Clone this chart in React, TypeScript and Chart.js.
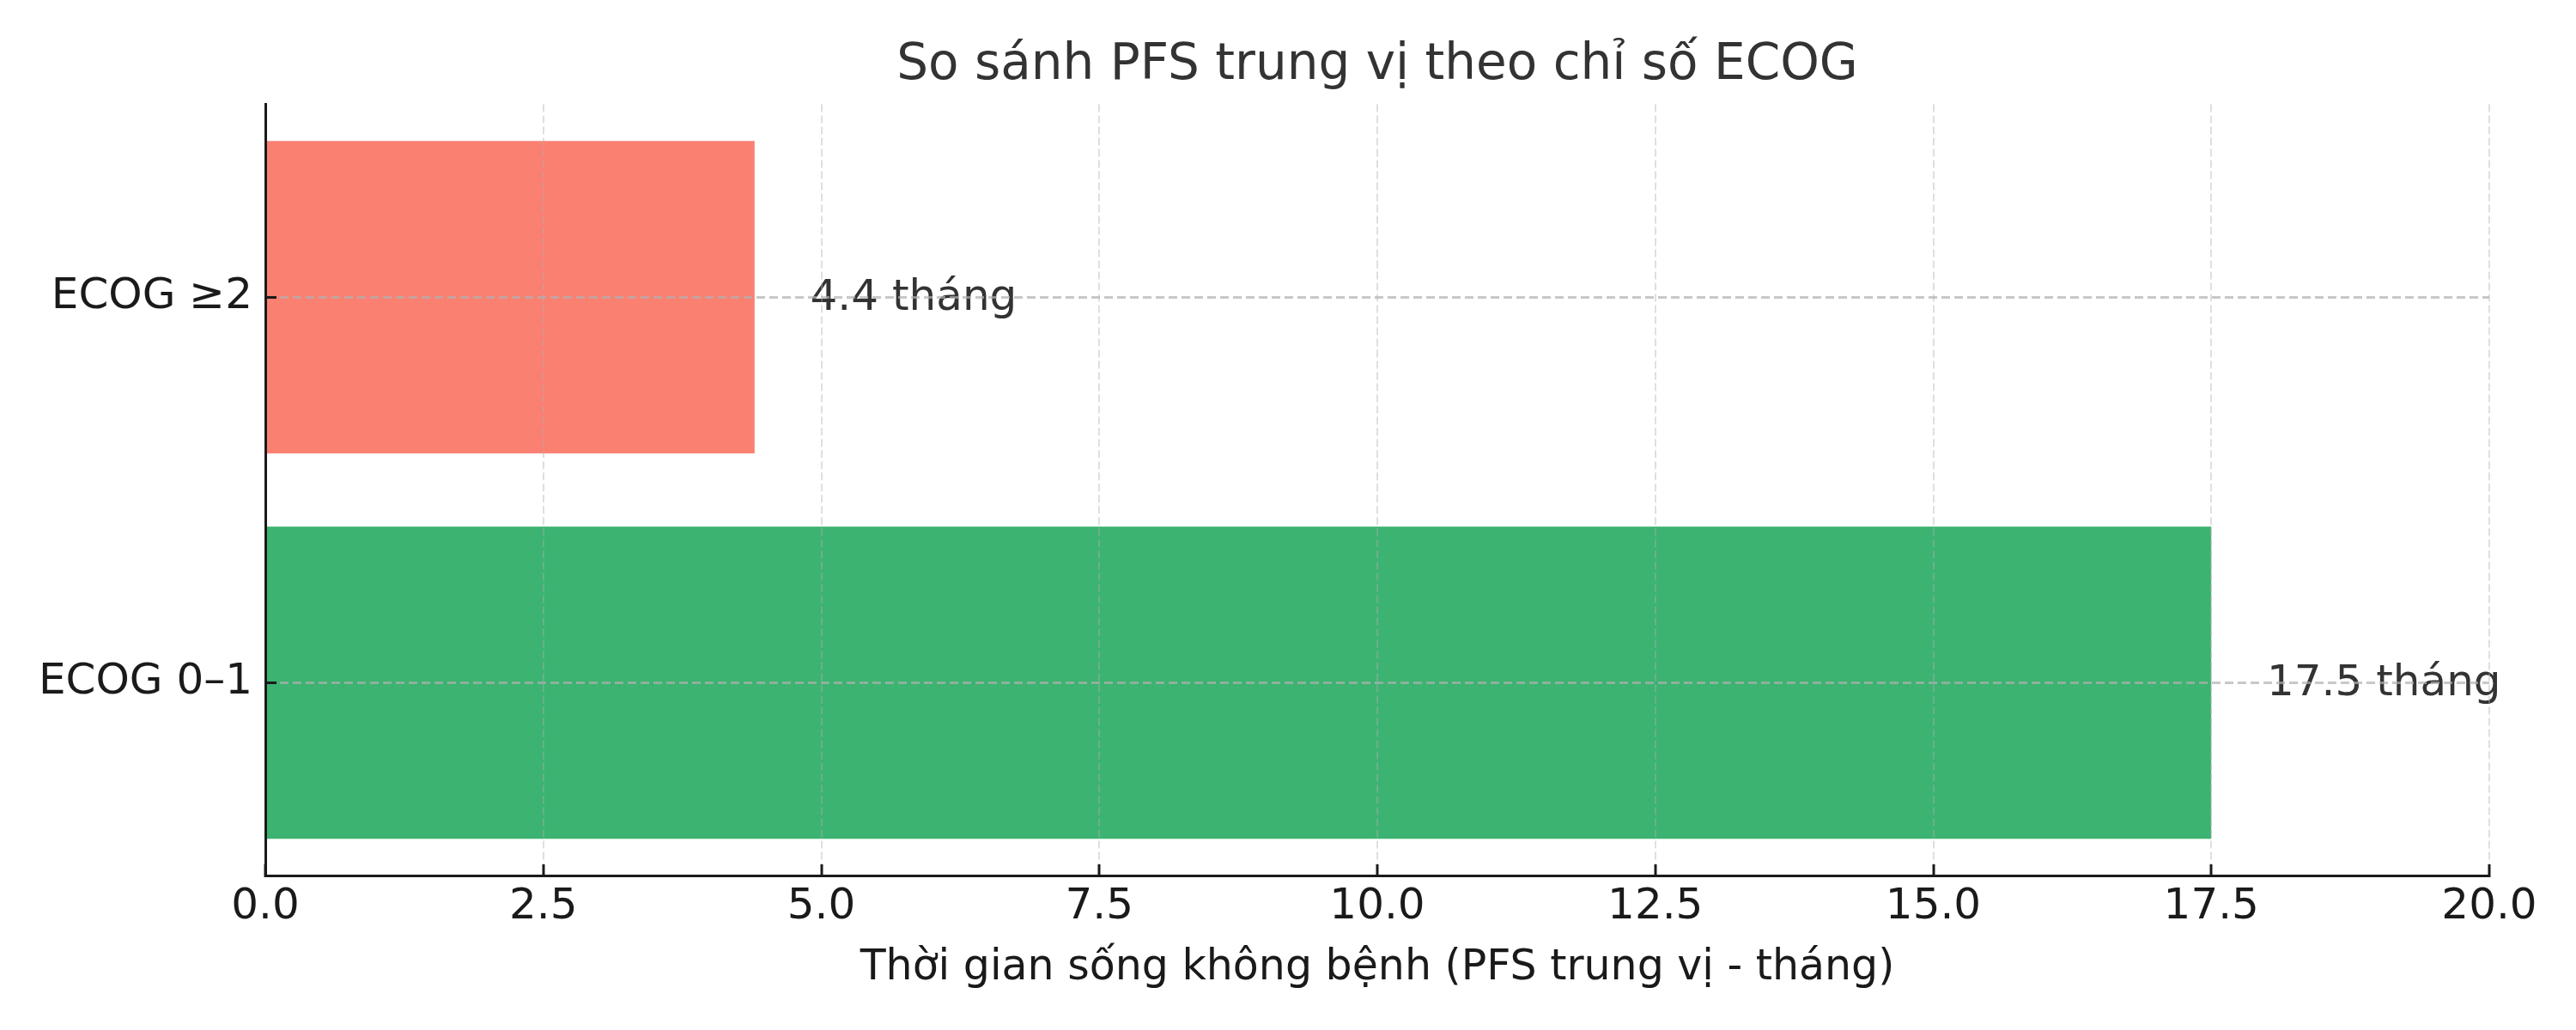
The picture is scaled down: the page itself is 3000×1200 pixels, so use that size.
import React, { useEffect, useRef } from 'react';
import { Chart, registerables } from 'chart.js';

Chart.register(...registerables);

// Data
const categories = ['ECOG 0–1', 'ECOG ≥2'];
const pfsMonths = [17.5, 4.4];
const barColors = ['#3CB371', '#FA8072'];
const xTickValues = [0, 2.5, 5, 7.5, 10, 12.5, 15, 17.5, 20];
const unitLabel = 'tháng';
const labelOffset = 0.5;

const chartTitle = 'So sánh PFS trung vị theo chỉ số ECOG';
const xAxisTitle = 'Thời gian sống không bệnh (PFS trung vị - tháng)';

const FONT = '"DejaVu Sans", sans-serif';

// Text labels to the right of each bar
const valueLabelPlugin = {
  id: 'valueLabels',
  afterDatasetsDraw(chart: any) {
    const { ctx, scales } = chart;
    const x = scales.x;
    const y = scales.y;
    ctx.save();
    ctx.font = `50px ${FONT}`;
    ctx.fillStyle = '#333333';
    ctx.textAlign = 'left';
    ctx.textBaseline = 'middle';
    pfsMonths.forEach((v, i) => {
      ctx.fillText(
        `${v.toFixed(1)} ${unitLabel}`,
        x.getPixelForValue(v + labelOffset),
        y.getPixelForValue(i) + 2
      );
    });
    ctx.restore();
  },
};

const App: React.FC = () => {
  const canvasRef = useRef<HTMLCanvasElement | null>(null);
  const chartRef = useRef<Chart | null>(null);

  useEffect(() => {
    if (!canvasRef.current) return;
    if (chartRef.current) chartRef.current.destroy();

    chartRef.current = new Chart(canvasRef.current, {
      type: 'bar',
      data: {
        labels: categories,
        datasets: [
          {
            data: pfsMonths,
            backgroundColor: barColors,
            borderWidth: 0,
            barPercentage: 0.81,
            categoryPercentage: 1.0,
          },
        ],
      },
      options: {
        indexAxis: 'y',
        animation: false,
        responsive: false,
        devicePixelRatio: 1,
        layout: { padding: { left: 0, right: 101, top: 0, bottom: 0 } },
        plugins: {
          legend: { display: false },
          tooltip: { enabled: false },
          title: {
            display: true,
            text: chartTitle,
            fullSize: false,
            color: '#333333',
            font: { family: FONT, size: 58, weight: 'normal', lineHeight: 1.2 },
            padding: { top: 42, bottom: 10 },
          },
        },
        scales: {
          x: {
            type: 'linear',
            min: 0,
            max: 20,
            afterBuildTicks: (scale: any) => {
              scale.ticks = xTickValues.map((v) => ({ value: v }));
            },
            afterFit: (scale: any) => {
              scale.height = 180;
            },
            grid: {
              z: 1,
              color: 'rgba(176,176,176,0.4)',
              lineWidth: 2,
              drawTicks: true,
              tickLength: -13,
              tickColor: '#1a1a1a',
              tickWidth: 3,
              tickBorderDash: [],
            },
            border: { display: true, color: '#1a1a1a', width: 3, z: 1, dash: [9, 4] },
            ticks: {
              color: '#1a1a1a',
              font: { family: FONT, size: 50, lineHeight: 1.2 },
              padding: 20,
              maxRotation: 0,
              autoSkip: false,
              callback: (value: any) => Number(value).toFixed(1),
            },
            title: {
              display: true,
              text: xAxisTitle,
              color: '#1a1a1a',
              font: { family: FONT, size: 49, lineHeight: 1.2 },
              padding: { top: 0, bottom: 42 },
            },
          },
          y: {
            type: 'category',
            reverse: true,
            offset: true,
            afterFit: (scale: any) => {
              scale.width = 309;
            },
            grid: {
              z: 1,
              offset: false,
              color: 'rgba(176,176,176,0.7)',
              lineWidth: 3,
              drawTicks: true,
              tickLength: -13,
              tickColor: '#1a1a1a',
              tickWidth: 3,
              tickBorderDash: [],
            },
            border: { display: true, color: '#1a1a1a', width: 3, z: 1, dash: [10, 5] },
            ticks: {
              color: '#1a1a1a',
              font: { family: FONT, size: 50, lineHeight: 1.2 },
              padding: 28,
            },
          },
        },
      },
      plugins: [valueLabelPlugin],
    } as any);

    return () => {
      if (chartRef.current) {
        chartRef.current.destroy();
        chartRef.current = null;
      }
    };
  }, []);

  return (
    <div style={{ position: 'absolute', left: 0, top: 0, width: 3000, height: 1200, background: '#ffffff' }}>
      <canvas ref={canvasRef} width={3000} height={1200}></canvas>
    </div>
  );
};

export default App;
